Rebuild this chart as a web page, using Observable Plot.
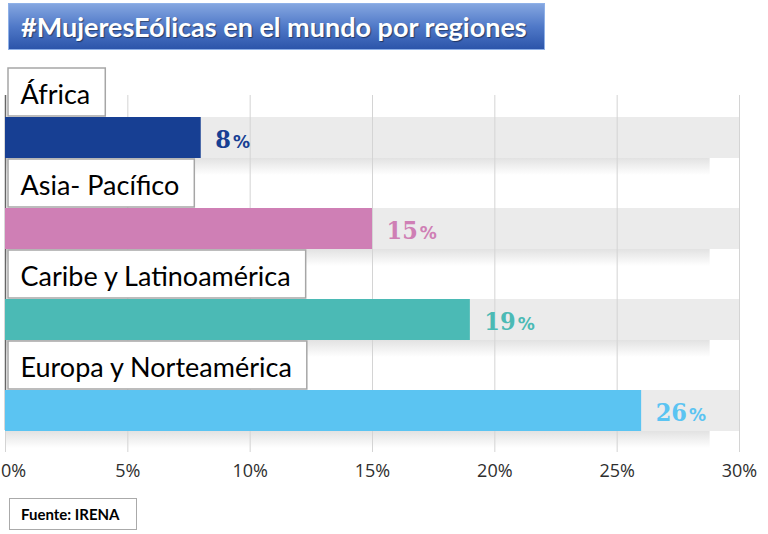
<!DOCTYPE html>
<html><head><meta charset="utf-8">
<script src="https://cdn.jsdelivr.net/npm/d3@7"></script>
<script src="https://cdn.jsdelivr.net/npm/@observablehq/plot@0.6"></script>
<style>
body{margin:0;background:#fff;width:768px;height:534px;overflow:hidden;position:relative;}
#title{position:absolute;left:8px;top:3px;width:537px;height:47px;box-sizing:border-box;border:1px solid #8fb1e8;background:linear-gradient(#84a6e0,#5079c8 50%,#2c55aa);color:#fff;font:bold 27px Lato,sans-serif;line-height:45px;padding-left:12px;text-shadow:1px 1px 1px rgba(0,0,0,.45);white-space:nowrap;}
#chart{position:absolute;left:0;top:55px;}
#source{position:absolute;left:9px;top:498px;width:128px;height:32px;box-sizing:border-box;border:1px solid #aaa;font:bold 15px Lato,sans-serif;line-height:30px;padding-left:11px;color:#000;white-space:nowrap;}
</style></head>
<body>
<div id="title">#MujeresEólicas en el mundo por regiones</div>
<div id="chart"></div>
<div id="source">Fuente: IRENA</div>
<script>
const regions = ["África", "Asia- Pacífico", "Caribe y Latinoamérica", "Europa y Norteamérica"];
const shares = [8, 15, 19, 26];
const colors = ["#173f93", "#cf7fb5", "#4bbab5", "#5bc4f2"];
const ticks = [0, 5, 10, 15, 20, 25, 30];
const maxShare = 30;

const data = regions.map((r, i) => ({region: r, share: shares[i], color: colors[i]}));
const shadowEnd = 28.8;

const defs = () => {
  const d = d3.create("svg:defs");
  const g = d.append("linearGradient").attr("id", "shadowGrad").attr("x1", 0).attr("x2", 0).attr("y1", 0).attr("y2", 1);
  g.append("stop").attr("offset", 0).attr("stop-color", "#e2e2e2");
  g.append("stop").attr("offset", 1).attr("stop-color", "#ffffff");
  return d.node();
};

const chart = Plot.plot({
  width: 768, height: 440,
  marginLeft: 5, marginRight: 29, marginTop: 40, marginBottom: 43,
  x: {domain: [0, maxShare], ticks, tickFormat: d => d + "%", label: null},
  y: {domain: regions, paddingInner: 0.55, paddingOuter: 0.236, axis: null},
  color: {type: "identity"},
  style: {fontFamily: "'Open Sans', sans-serif", fontSize: "18px", color: "#2e2e2e", background: "transparent"},
  marks: [
    defs,
    Plot.barX(data, {x1: 0, x2: shadowEnd, y: "region", fill: "url(#shadowGrad)", dy: 41, insetBottom: 24}),
    Plot.barX(data, {x1: 0, x2: maxShare, y: "region", fill: "#ebebeb"}),
    Plot.gridX({ticks, stroke: "#d4d4d4", strokeOpacity: 1}),
    Plot.ruleX([0], {stroke: "#666", strokeWidth: 1.5, insetBottom: 22}),
    Plot.barX(data, {x: "share", y: "region", fill: "color"}),
    Plot.text(data, {x: "share", y: "region", text: d => d.share + "%", fill: "color", textAnchor: "start", dx: 14, dy: 2,
      fontFamily: "'DejaVu Serif Condensed', 'DejaVu Serif'", fontWeight: "bold", fontSize: 25}),
    Plot.text(data, {x: 0, y: "region", text: "region", textAnchor: "start", dx: 15, dy: -43,
      fill: "#000", fontFamily: "Lato", fontSize: 27}),
    Plot.axisX({ticks, tickSize: 0, tickPadding: 12, fontSize: 18, tickFormat: d => d + "%"})
  ]
});
document.getElementById("chart").appendChild(chart);

const svgns = "http://www.w3.org/2000/svg";
const yScale = chart.scale("y");
const xScale = chart.scale("x");
const svgRect = chart.getBoundingClientRect();
const boxLayer = document.createElementNS(svgns, "g");
chart.querySelectorAll("text").forEach(t => {
  const txt = t.textContent;
  if (regions.includes(txt)) {
    const b = t.getBoundingClientRect();
    const top = yScale.apply(txt);
    const rect = document.createElementNS(svgns, "rect");
    const x0 = xScale.apply(0) + 3;
    rect.setAttribute("x", x0);
    rect.setAttribute("y", top - 49);
    rect.setAttribute("width", (b.right - svgRect.left) - x0 + 15);
    rect.setAttribute("height", 48);
    rect.setAttribute("fill", "#fff");
    rect.setAttribute("stroke", "#a6a6a6");
    rect.setAttribute("stroke-width", 1.5);
    boxLayer.appendChild(rect);
  } else if (t.hasAttribute("fill") && /^\d+%$/.test(txt)) {
    const num = txt.slice(0, -1);
    t.textContent = "";
    const a = document.createElementNS(svgns, "tspan");
    a.textContent = num;
    const p = document.createElementNS(svgns, "tspan");
    p.textContent = "%";
    p.setAttribute("font-size", 17);
    p.setAttribute("font-family", "DejaVu Sans");
    p.setAttribute("dx", 2);
    t.appendChild(a); t.appendChild(p);
  } else if (txt === "0%") {
    // keep the first tick label inside the page
    t.setAttribute("dx", 8);
  }
});
const labelText = [...chart.querySelectorAll("text")].find(t => regions.includes(t.textContent));
const labelGroup = labelText.closest("g");
labelGroup.parentNode.insertBefore(boxLayer, labelGroup);
</script>
</body></html>
